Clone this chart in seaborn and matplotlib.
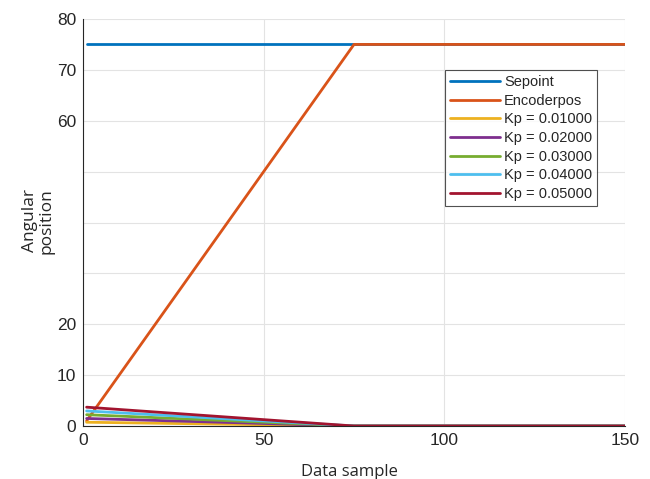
import matplotlib
matplotlib.use("Agg")
import matplotlib.pyplot as plt
import seaborn as sns
import pandas as pd

# Data (breakpoints of straight segments)
x_pts = [1, 75, 150]
setpoint = [75, 75, 75]
encoderpos = [1, 75, 75]
kp_labels = ["Kp = 0.01000", "Kp = 0.02000", "Kp = 0.03000", "Kp = 0.04000", "Kp = 0.05000"]
kp_series = [
    [0.74, 0, 0],
    [1.48, 0, 0],
    [2.22, 0, 0],
    [2.96, 0, 0],
    [3.70, 0, 0],
]
series_names = ["Sepoint", "Encoderpos"] + kp_labels
colors = ["#0072BD", "#D95319", "#EDB120", "#7E2F8E", "#77AC30", "#4DBEEE", "#A2142F"]
yticks = [0, 10, 20, 30, 40, 50, 60, 70, 80]
ytick_labels = ["0", "10", "20", "", "", "", "60", "70", "80"]
xticks = [0, 50, 100, 150]

rows = []
all_series = [setpoint, encoderpos] + kp_series
for name, vals in zip(series_names, all_series):
    for xv, yv in zip(x_pts, vals):
        rows.append({"x": xv, "y": yv, "series": name})
df = pd.DataFrame(rows)

sns.set_style("white")
plt.rcParams["font.family"] = ["Liberation Sans", "DejaVu Sans"]

fig = plt.figure(figsize=(6.5, 4.79), dpi=100)
ax = fig.add_axes([83/650, 1-426/479, (625-83)/650, (426-19)/479])

sns.lineplot(data=df, x="x", y="y", hue="series", hue_order=series_names,
             palette=colors, linewidth=2.0, ax=ax, sort=False, estimator=None)

ax.set_xlim(0, 150)
ax.set_ylim(0, 80)
ax.set_xticks(xticks)
ax.set_xticklabels([str(t) for t in xticks])
ax.set_yticks(yticks)
ax.set_yticklabels(ytick_labels)
ax.tick_params(direction="in", length=4, color="#262626", labelsize=12.5, labelcolor="#262626", pad=5)
ax.grid(True, color="#e3e3e3", linewidth=0.8)
ax.set_axisbelow(True)
for s in ["top", "right"]:
    ax.spines[s].set_visible(False)
for s in ["left", "bottom"]:
    ax.spines[s].set_color("#262626")
    ax.spines[s].set_linewidth(0.8)

ax.set_xlabel("Data sample", fontsize=12, family=["Open Sans", "DejaVu Sans"], color="#262626")
ax.xaxis.set_label_coords((349.5-83)/542, (426-464)/407)
ax.set_ylabel("Angular\nposition", fontsize=12.5, family=["Open Sans", "DejaVu Sans"], color="#262626",
              linespacing=1.05)
ax.yaxis.set_label_coords((55-83)/542, (426-221)/407)

leg = ax.legend(loc="upper left", bbox_to_anchor=((445-83)/542, 1-(70-19)/407),
                fontsize=10.5, frameon=True, fancybox=False, handlelength=3.4,
                borderpad=0.35, labelspacing=0.32, handletextpad=0.3, borderaxespad=0)
leg.get_frame().set_edgecolor("#262626")
leg.get_frame().set_linewidth(0.8)
for line in leg.get_lines():
    line.set_linewidth(2.0)

fig.savefig("out.png", dpi=100)
